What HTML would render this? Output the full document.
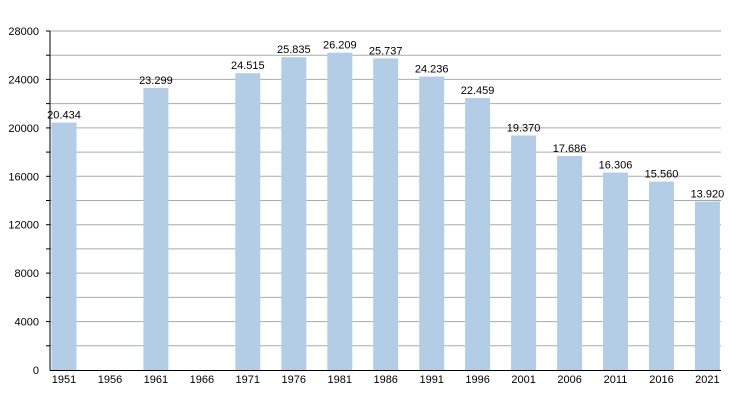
<!DOCTYPE html><html><head><style>body{margin:0;background:#fff}</style></head><body>
<svg width="750" height="400" xmlns="http://www.w3.org/2000/svg" font-family="Liberation Sans, sans-serif" font-size="11">
<g stroke="#aaa">
<line x1="50" x2="721" y1="345.8" y2="345.8"/><line x1="50" x2="721" y1="321.6" y2="321.6"/><line x1="50" x2="721" y1="297.4" y2="297.4"/><line x1="50" x2="721" y1="273.1" y2="273.1"/><line x1="50" x2="721" y1="248.9" y2="248.9"/><line x1="50" x2="721" y1="224.7" y2="224.7"/><line x1="50" x2="721" y1="200.5" y2="200.5"/><line x1="50" x2="721" y1="176.3" y2="176.3"/><line x1="50" x2="721" y1="152.1" y2="152.1"/><line x1="50" x2="721" y1="127.9" y2="127.9"/><line x1="50" x2="721" y1="103.6" y2="103.6"/><line x1="50" x2="721" y1="79.4" y2="79.4"/><line x1="50" x2="721" y1="55.2" y2="55.2"/><line x1="50" x2="721" y1="31" y2="31"/>
</g>
<g stroke="#000">
<line x1="46" x2="50" y1="345.8" y2="345.8"/><line x1="46" x2="50" y1="321.6" y2="321.6"/><line x1="46" x2="50" y1="297.4" y2="297.4"/><line x1="46" x2="50" y1="273.1" y2="273.1"/><line x1="46" x2="50" y1="248.9" y2="248.9"/><line x1="46" x2="50" y1="224.7" y2="224.7"/><line x1="46" x2="50" y1="200.5" y2="200.5"/><line x1="46" x2="50" y1="176.3" y2="176.3"/><line x1="46" x2="50" y1="152.1" y2="152.1"/><line x1="46" x2="50" y1="127.9" y2="127.9"/><line x1="46" x2="50" y1="103.6" y2="103.6"/><line x1="46" x2="50" y1="79.4" y2="79.4"/><line x1="46" x2="50" y1="55.2" y2="55.2"/><line x1="46" x2="50" y1="31" y2="31"/>
</g>
<g text-anchor="end">
<text x="39" y="374">0</text><text x="39" y="325.6">4000</text><text x="39" y="277.1">8000</text><text x="39" y="228.7">12000</text><text x="39" y="180.3">16000</text><text x="39" y="131.9">20000</text><text x="39" y="83.4">24000</text><text x="39" y="35">28000</text>
</g>
<g fill="#b3cde6">
<rect x="51.5" y="122.6" width="25" height="247.4"/>
<rect x="143.4" y="87.9" width="25" height="282.1"/>
<rect x="235.3" y="73.2" width="25" height="296.8"/>
<rect x="281.3" y="57.2" width="25" height="312.8"/>
<rect x="327.3" y="52.7" width="25" height="317.3"/>
<rect x="373.2" y="58.4" width="25" height="311.6"/>
<rect x="419.2" y="76.6" width="25" height="293.4"/>
<rect x="465.1" y="98.1" width="25" height="271.9"/>
<rect x="511.1" y="135.5" width="25" height="234.5"/>
<rect x="557.1" y="155.9" width="25" height="214.1"/>
<rect x="603" y="172.6" width="25" height="197.4"/>
<rect x="649" y="181.6" width="25" height="188.4"/>
<rect x="694.9" y="201.5" width="25" height="168.5"/>
</g>
<g text-anchor="middle">
<text x="64" y="118.6">20.434</text>
<text x="155.9" y="83.9">23.299</text>
<text x="247.8" y="69.2">24.515</text>
<text x="293.8" y="53.2">25.835</text>
<text x="339.8" y="48.7">26.209</text>
<text x="385.7" y="54.4">25.737</text>
<text x="431.7" y="72.6">24.236</text>
<text x="477.6" y="94.1">22.459</text>
<text x="523.6" y="131.5">19.370</text>
<text x="569.6" y="151.9">17.686</text>
<text x="615.5" y="168.6">16.306</text>
<text x="661.5" y="177.6">15.560</text>
<text x="707.4" y="197.5">13.920</text>
<text x="64" y="383">1951</text><text x="110" y="383">1956</text><text x="155.9" y="383">1961</text><text x="201.9" y="383">1966</text><text x="247.8" y="383">1971</text><text x="293.8" y="383">1976</text><text x="339.8" y="383">1981</text><text x="385.7" y="383">1986</text><text x="431.7" y="383">1991</text><text x="477.6" y="383">1996</text><text x="523.6" y="383">2001</text><text x="569.6" y="383">2006</text><text x="615.5" y="383">2011</text><text x="661.5" y="383">2016</text><text x="707.4" y="383">2021</text>
</g>
<line x1="50" x2="50" y1="31" y2="370.5" stroke="#000"/>
<line x1="50" x2="721" y1="370.5" y2="370.5" stroke="#000"/>
</svg></body></html>
